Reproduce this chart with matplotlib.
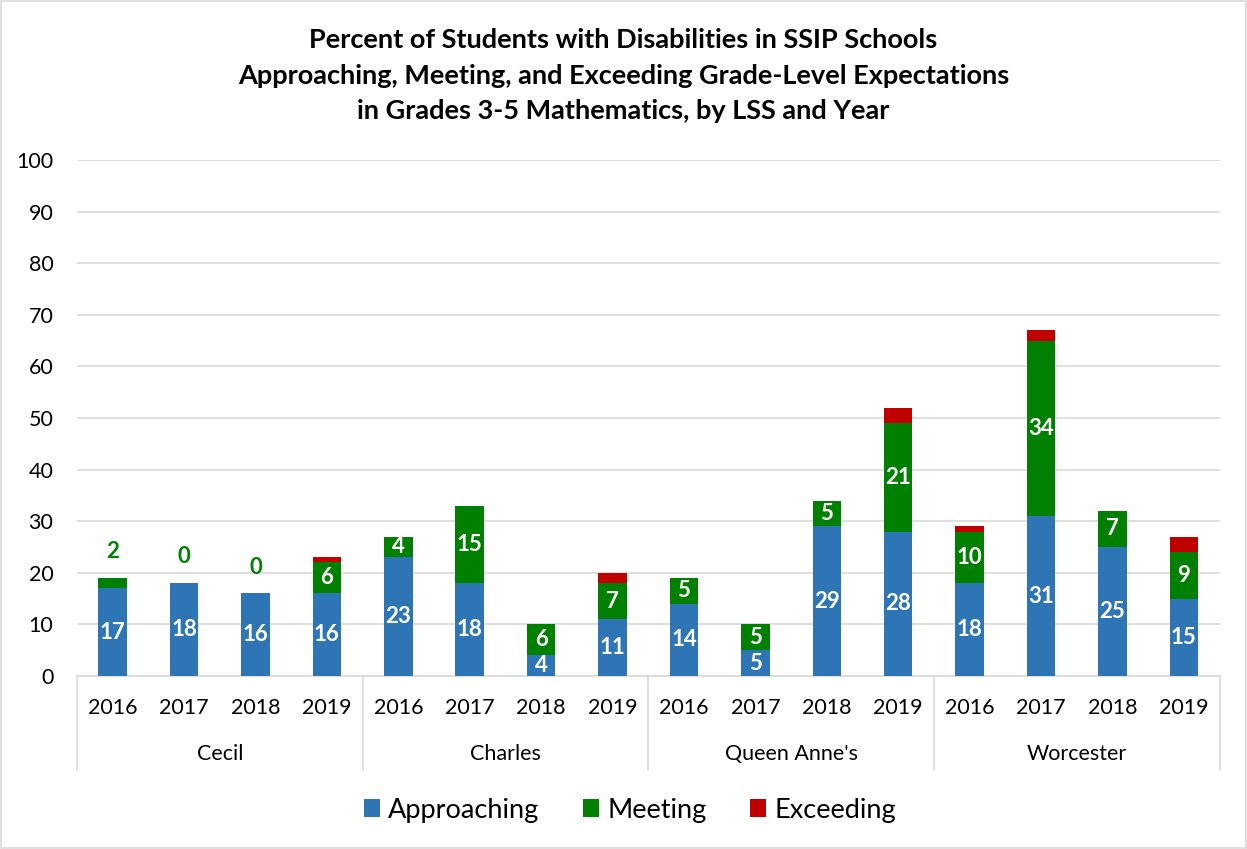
import matplotlib.pyplot as plt
import numpy as np
from matplotlib.patches import Rectangle

plt.rcParams['font.family'] = ['Lato', 'DejaVu Sans']

# data
districts = ['Cecil', 'Charles', "Queen Anne's", 'Worcester']
years = ['2016', '2017', '2018', '2019']
approaching = [17, 18, 16, 16, 23, 18, 4, 11, 14, 5, 29, 28, 18, 31, 25, 15]
meeting = [2, 0, 0, 6, 4, 15, 6, 7, 5, 5, 5, 21, 10, 34, 7, 9]
exceeding = [0, 0, 0, 1, 0, 0, 0, 2, 0, 0, 0, 3, 1, 2, 0, 3]

blue = '#2E75B6'
green = '#008000'
red = '#C00000'
grid = '#D9D9D9'

fig = plt.figure(figsize=(12.47, 8.49), dpi=100)
ax = fig.add_axes([0.0617, 0.2038, 0.9163, 0.6077])

x = np.arange(len(approaching))
a = np.array(approaching)
m = np.array(meeting)
e = np.array(exceeding)

w = 0.4
ax.bar(x, a, width=w, color=blue, label='Approaching', zorder=3)
ax.bar(x, m, width=w, bottom=a, color=green, label='Meeting', zorder=3)
ax.bar(x, e, width=w, bottom=a + m, color=red, label='Exceeding', zorder=3)

# data labels
for i in x:
    ax.text(i, a[i] / 2, str(a[i]), ha='center', va='center', color='white',
            fontsize=16, fontweight='bold', zorder=4)
    if i < 4 and m[i] < 3:
        # small Cecil values sit above the bar in green
        ax.annotate(str(m[i]), (i, a[i] + m[i] + e[i]), xytext=(0, 19),
                    textcoords='offset points', ha='center', va='center',
                    color=green, fontsize=16, fontweight='bold')
    else:
        ax.text(i, a[i] + m[i] / 2, str(m[i]), ha='center', va='center',
                color='white', fontsize=16, fontweight='bold', zorder=4)

ax.set_xlim(-0.5, len(x) - 0.5)
ax.set_ylim(0, 100)
ax.set_yticks(range(0, 101, 10))
ax.yaxis.grid(True, color=grid, linewidth=1.2, zorder=0)
ax.set_axisbelow(True)
for s in ['top', 'right', 'left']:
    ax.spines[s].set_visible(False)
ax.spines['bottom'].set_color(grid)
ax.spines['bottom'].set_linewidth(1.2)
ax.tick_params(axis='y', length=0, labelsize=15.5, pad=17)
ax.tick_params(axis='x', length=0, labelsize=15.5, pad=16)
ax.set_xticks(x)
ax.set_xticklabels(years * len(districts))

# group labels and separators under the axis
trans = ax.get_xaxis_transform()
n = len(years)
for g, name in enumerate(districts):
    ax.text(g * n + (n - 1) / 2, -0.151, name, transform=trans, ha='center',
            va='center', fontsize=15.5)
for g in range(len(districts) + 1):
    ax.plot([g * n - 0.5, g * n - 0.5], [0, -0.182], transform=trans,
            color=grid, linewidth=1.2, clip_on=False)

fig.text(0.5, 0.911, 'Percent of Students with Disabilities in SSIP Schools\n'
         'Approaching, Meeting, and Exceeding Grade-Level Expectations\n'
         'in Grades 3-5 Mathematics, by LSS and Year',
         ha='center', va='center', fontsize=19.5, fontweight='bold',
         linespacing=1.58)

ax.legend(loc='center', bbox_to_anchor=(0.484, -0.26), ncol=3, frameon=False,
          fontsize=19.5, handlelength=0.6, handleheight=0.6, handletextpad=0.3,
          columnspacing=1.6)

fig.patches.append(Rectangle((0.001, 0.001), 0.998, 0.998, transform=fig.transFigure,
                             fill=False, edgecolor=grid, linewidth=1.2))

fig.savefig('out.png', dpi=100)
